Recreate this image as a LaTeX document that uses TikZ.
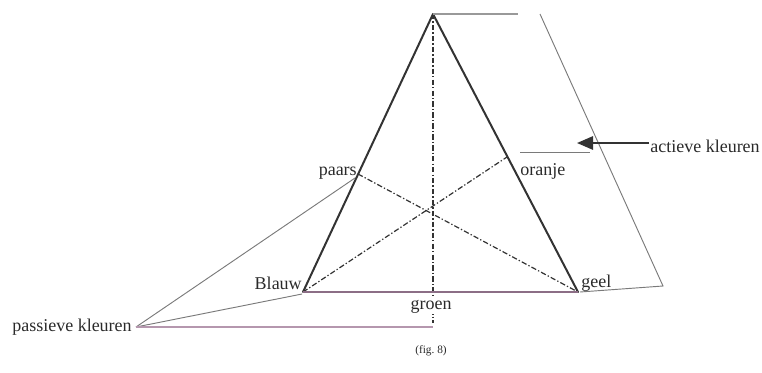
\documentclass[tikz,border=0pt]{standalone}
\usepackage{fontspec}
\setmainfont{Liberation Serif}
\usetikzlibrary{arrows.meta}
\definecolor{sidec}{HTML}{333333}
\definecolor{basec}{HTML}{8C6E86}
\definecolor{thinc}{HTML}{7A7A7A}
\definecolor{topc}{HTML}{999999}
\definecolor{pinkc}{HTML}{B597AE}
\definecolor{txtc}{HTML}{2A2A2A}
\tikzset{
  side/.style={draw=sidec, line width=1.5pt, line cap=round, line join=round},
  baseln/.style={draw=basec, line width=1.6pt},
  thin/.style={draw=thinc, line width=0.7pt},
  dd/.style={draw=sidec, line width=0.9pt, dash pattern=on 4pt off 1.6pt on 1pt off 1.6pt},
  lbl/.style={inner sep=0pt, text=txtc, font=\fontsize{13.5}{15}\selectfont},
}
\begin{document}
\begin{tikzpicture}[x=0.75pt, y=-0.75pt]
\useasboundingbox (0,0) rectangle (762,372);
% points
\coordinate (A) at (433,14);
\coordinate (B) at (303,292);
\coordinate (G) at (578,292);
\coordinate (P) at (358,174);
\coordinate (O) at (507,157);
\coordinate (Vb) at (433,323);
\coordinate (T1) at (518,14);
\coordinate (R1) at (540,14);
\coordinate (R2) at (663,286);
\coordinate (R3) at (580,292);
\coordinate (M1) at (520,152);
\coordinate (M2) at (590,152);
\coordinate (AT) at (577,143);
\coordinate (AS) at (649,143);
\coordinate (PK) at (136,327);
\coordinate (PB) at (302,294);
\coordinate (PP) at (355,178);
\coordinate (PH) at (433,327);
% dash-dot lines
\draw[dd] (A) -- (Vb);
\draw[dd] (P) -- (G);
\draw[dd] (B) -- (O);
% labels
\node[lbl, anchor=base east] (paars) at (357,175) {paars};
\node[lbl, anchor=base west] (oranje) at (520,175) {oranje};
\node[lbl, anchor=base east] (blauw) at (302,289) {Blauw};
\node[lbl, anchor=base west] (geel) at (581,287) {geel};
\node[lbl, anchor=base, fill=white, inner sep=1pt] (groen) at (431,309) {groen};
\node[lbl, anchor=base west] (actieve) at (650,152) {actieve kleuren};
\node[lbl, anchor=base west] (passieve) at (12,331) {passieve kleuren};
\node[inner sep=0pt, text=txtc, font=\fontsize{8.5}{10}\selectfont, anchor=base] (fig) at (431,353) {(fig.\ 8)};
% triangle
\draw[side] (B) -- (A) -- (G);
\draw[baseln] (B) -- (G);
% thin lines
\draw[draw=topc, line width=1.1pt] (A) -- (T1);
\draw[thin] (R1) -- (R2) -- (R3);
\draw[thin] (M1) -- (M2);
\draw[draw=sidec, line width=1.4pt, -{Triangle[length=12pt, width=10pt]}] (AS) -- (AT);
\draw[thin] (PK) -- (PP);
\draw[thin] (PK) -- (PB);
\draw[draw=pinkc, line width=0.8pt] (PK) -- (PH);
\end{tikzpicture}
\end{document}
